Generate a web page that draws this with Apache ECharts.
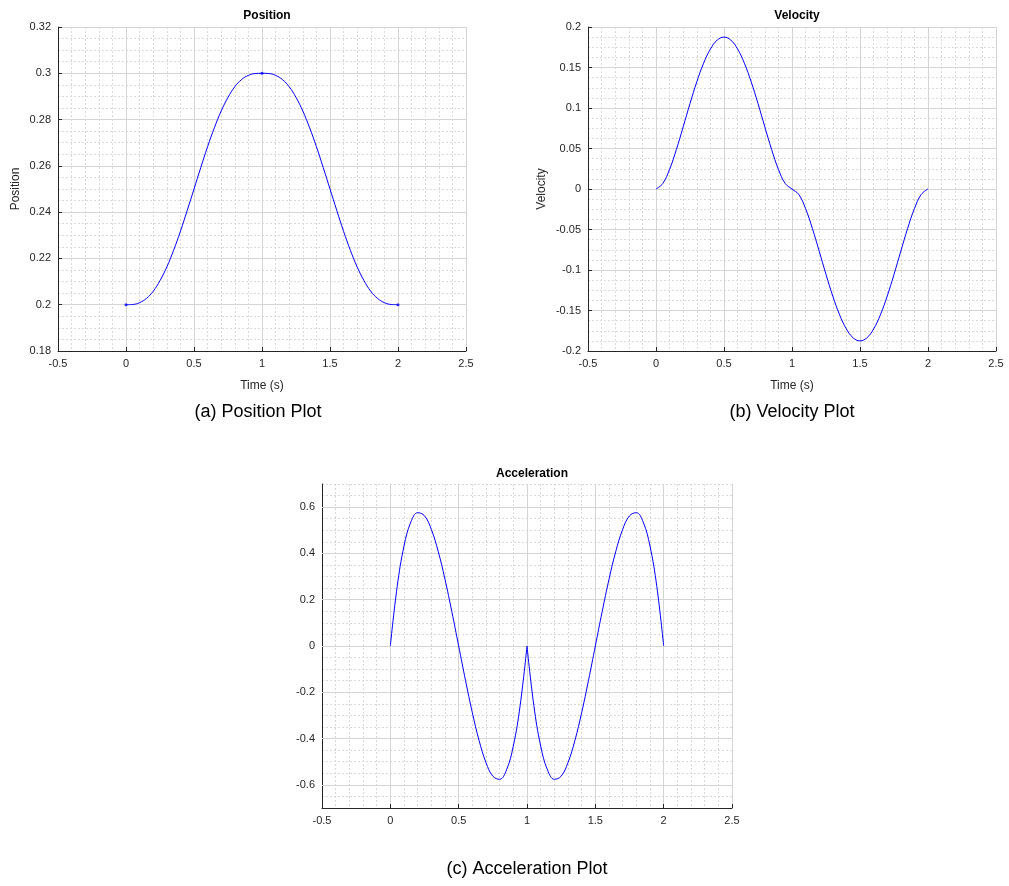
<!DOCTYPE html>
<html>
<head>
<meta charset="utf-8">
<script src="https://cdn.jsdelivr.net/npm/echarts@6/dist/echarts.min.js"></script>
<style>
html,body{margin:0;padding:0;background:#fff;}
#c{width:1009px;height:886px;}
</style>
</head>
<body>
<div id="c"></div>
<script>
// ---- data ----
var timeValues = [0,0.05,0.1,0.15,0.2,0.25,0.3,0.35,0.4,0.45,0.5,0.55,0.6,0.65,0.7,0.75,0.8,0.85,0.9,0.95,1,
  1.05,1.1,1.15,1.2,1.25,1.3,1.35,1.4,1.45,1.5,1.55,1.6,1.65,1.7,1.75,1.8,1.85,1.9,1.95,2];
var positionValues = [0.2000,0.2001,0.2009,0.2027,0.2058,0.2104,0.2163,0.2235,0.2317,0.2407,0.2500,0.2593,0.2683,0.2765,0.2837,0.2896,0.2942,0.2973,0.2991,0.2999,0.3000,
  0.2999,0.2991,0.2973,0.2942,0.2896,0.2837,0.2765,0.2683,0.2593,0.2500,0.2407,0.2317,0.2235,0.2163,0.2104,0.2058,0.2027,0.2009,0.2001,0.2000];
var positionKeyTimes = [0,1,2];
var positionKeyValues = [0.2,0.3,0.2];
var velocityValues = [0,0.0068,0.0243,0.0488,0.0768,0.1055,0.1323,0.1553,0.1728,0.1838,0.1875,0.1838,0.1728,0.1553,0.1323,0.1055,0.0768,0.0488,0.0243,0.0068,0,
  -0.0068,-0.0243,-0.0488,-0.0768,-0.1055,-0.1323,-0.1553,-0.1728,-0.1838,-0.1875,-0.1838,-0.1728,-0.1553,-0.1323,-0.1055,-0.0768,-0.0488,-0.0243,-0.0068,0];
var accelerationValues = [0,0.2565,0.4320,0.5355,0.5760,0.5625,0.5040,0.4095,0.2880,0.1485,0,-0.1485,-0.2880,-0.4095,-0.5040,-0.5625,-0.5760,-0.5355,-0.4320,-0.2565,0,
  -0.2565,-0.4320,-0.5355,-0.5760,-0.5625,-0.5040,-0.4095,-0.2880,-0.1485,0,0.1485,0.2880,0.4095,0.5040,0.5625,0.5760,0.5355,0.4320,0.2565,0];
var xTickRange = [-0.5, 2.5, 0.5];
var positionRange = [0.18, 0.32, 0.02];
var velocityRange = [-0.2, 0.2, 0.05];
var accelerationRange = [-0.7, 0.7, 0.05];
var accelerationTicks = [-0.6, -0.4, -0.2, 0, 0.2, 0.4, 0.6];
var plotTitles = ['Position','Velocity','Acceleration'];
var captions = ['(a) Position Plot','(b) Velocity Plot','(c) Acceleration Plot'];
var xName = 'Time (s)';
var yNames = ['Position','Velocity',''];

function pairs(xs, ys, from, to) {
  var out = [];
  for (var i = from; i <= to; i++) out.push([xs[i], ys[i]]);
  return out;
}

var FONT = 'Liberation Sans, Arial, Helvetica, sans-serif';
var AX = '#262626';
var MAJOR = '#d4d4d4';
var MINOR = '#d9d9d9';
var grids = [
  {left: 58, top: 27, width: 408, height: 324},
  {left: 588, top: 27, width: 408, height: 324},
  {left: 322, top: 484, width: 410, height: 324}
];

function fmt(v) {
  if (Math.abs(v) < 1e-9) return '0';
  return String(parseFloat(v.toFixed(4)));
}

function xAxis(idx, name) {
  return {
    type: 'value', gridIndex: idx, min: xTickRange[0], max: xTickRange[1], interval: xTickRange[2],
    name: name, nameLocation: 'middle', nameGap: 29,
    nameTextStyle: {color: AX, fontFamily: FONT, fontSize: 12},
    axisLine: {show: true, onZero: false, lineStyle: {color: AX, width: 1}},
    axisTick: {show: true, inside: true, length: 4, lineStyle: {color: AX}},
    axisLabel: {color: AX, fontFamily: FONT, fontSize: 11, margin: 7, formatter: fmt},
    splitLine: {show: true, lineStyle: {color: MAJOR, width: 1}},
    minorTick: {show: false, splitNumber: 5},
    minorSplitLine: {show: true, lineStyle: {color: MINOR, width: 1, type: [2, 2]}},
    z: 3
  };
}
function yAxis(idx, range, name, gap) {
  return {
    type: 'value', gridIndex: idx, min: range[0], max: range[1], interval: range[2],
    name: name, nameLocation: 'middle', nameGap: gap,
    nameTextStyle: {color: AX, fontFamily: FONT, fontSize: 12},
    axisLine: {show: true, onZero: false, lineStyle: {color: AX, width: 1}},
    axisTick: {show: true, inside: true, length: 4, lineStyle: {color: AX}},
    axisLabel: {color: AX, fontFamily: FONT, fontSize: 11, margin: 7, formatter: fmt},
    splitLine: {show: true, lineStyle: {color: MAJOR, width: 1}},
    minorTick: {show: false, splitNumber: 4},
    minorSplitLine: {show: true, lineStyle: {color: MINOR, width: 1, type: [2, 2]}},
    z: 3
  };
}

// Acceleration: visible axis with custom ticks; a hidden twin draws the dotted 0.05 grid
var accAxis = {
  type: 'value', gridIndex: 2, min: accelerationRange[0], max: accelerationRange[1], interval: accelerationRange[2],
  axisLine: {show: true, onZero: false, lineStyle: {color: AX, width: 1}},
  axisTick: {show: true, inside: true, length: 4, lineStyle: {color: AX}, customValues: accelerationTicks},
  axisLabel: {color: AX, fontFamily: FONT, fontSize: 11, margin: 7, customValues: accelerationTicks,
    formatter: function (v) {
      for (var i = 0; i < accelerationTicks.length; i++) {
        if (Math.abs(accelerationTicks[i] - v) < 1e-6) return fmt(accelerationTicks[i]);
      }
      return '';
    }},
  splitLine: {show: false},
  z: 3
};
var accGridAxis = {
  type: 'value', gridIndex: 2, min: accelerationRange[0], max: accelerationRange[1], interval: accelerationRange[2],
  position: 'left',
  axisLine: {show: false}, axisTick: {show: false}, axisLabel: {show: false},
  splitLine: {show: true, lineStyle: {color: MINOR, width: 1, type: [2, 2]}}
};

var lineStyle = {color: '#0000ff', width: 1};
var chart = echarts.init(document.getElementById('c'), null, {renderer: 'canvas'});
chart.setOption({
  animation: false,
  backgroundColor: '#ffffff',
  title: [
    {text: plotTitles[0], left: 262, top: 5, textAlign: 'center', textStyle: {fontFamily: FONT, fontSize: 12, fontWeight: 'bold', color: '#000'}},
    {text: plotTitles[1], left: 792, top: 5, textAlign: 'center', textStyle: {fontFamily: FONT, fontSize: 12, fontWeight: 'bold', color: '#000'}},
    {text: plotTitles[2], left: 527, top: 463, textAlign: 'center', textStyle: {fontFamily: FONT, fontSize: 12, fontWeight: 'bold', color: '#000'}},
    {text: captions[0], left: 253, top: 398, textAlign: 'center', textStyle: {fontFamily: FONT, fontSize: 18, fontWeight: 'normal', color: '#000'}},
    {text: captions[1], left: 787, top: 398, textAlign: 'center', textStyle: {fontFamily: FONT, fontSize: 18, fontWeight: 'normal', color: '#000'}},
    {text: captions[2], left: 522, top: 855, textAlign: 'center', textStyle: {fontFamily: FONT, fontSize: 18, fontWeight: 'normal', color: '#000'}}
  ],
  grid: grids,
  xAxis: [xAxis(0, xName), xAxis(1, xName), xAxis(2, '')],
  yAxis: [
    yAxis(0, positionRange, yNames[0], 36),
    yAxis(1, velocityRange, yNames[1], 40),
    accAxis,
    accGridAxis
  ],
  series: [
    {type: 'line', xAxisIndex: 2, yAxisIndex: 2, data: [], z: 1, silent: true,
      markLine: {silent: true, symbol: 'none', label: {show: false}, animation: false,
        lineStyle: {color: MAJOR, width: 1, type: 'solid'},
        data: accelerationTicks.map(function (v) { return {yAxis: v}; })}},
    {type: 'line', xAxisIndex: 0, yAxisIndex: 0, data: pairs(timeValues, positionValues, 0, 40), smooth: 0.4, showSymbol: false, lineStyle: lineStyle, z: 5},
    {type: 'scatter', xAxisIndex: 0, yAxisIndex: 0, data: positionKeyTimes.map(function (t, i) { return [t, positionKeyValues[i]]; }), symbolSize: 3, itemStyle: {color: '#0000ff'}, z: 5},
    {type: 'line', xAxisIndex: 1, yAxisIndex: 1, data: pairs(timeValues, velocityValues, 0, 40), smooth: 0.4, showSymbol: false, lineStyle: lineStyle, z: 5},
    {type: 'line', xAxisIndex: 2, yAxisIndex: 2, data: pairs(timeValues, accelerationValues, 0, 20), smooth: 0.4, showSymbol: false, lineStyle: lineStyle, z: 5},
    {type: 'line', xAxisIndex: 2, yAxisIndex: 2, data: pairs(timeValues, accelerationValues, 20, 40), smooth: 0.4, showSymbol: false, lineStyle: lineStyle, z: 5}
  ]
});
</script>
</body>
</html>
